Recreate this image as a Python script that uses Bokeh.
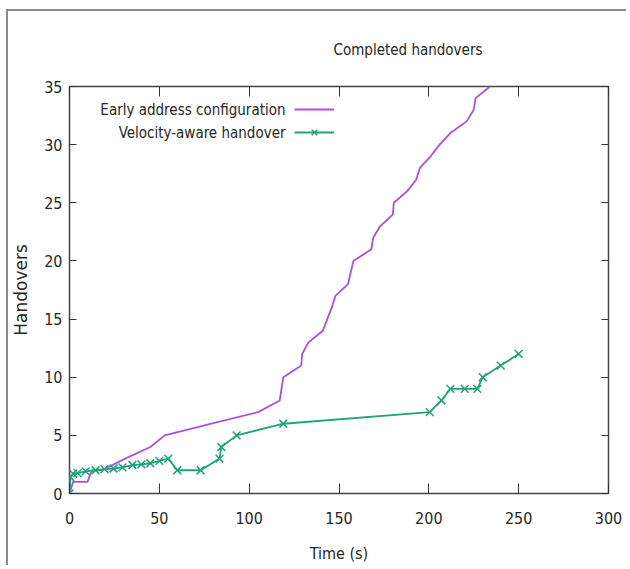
from bokeh.plotting import figure
from bokeh.models import Range1d, LinearAxis, Legend, LegendItem, Label, FixedTicker
from bokeh.embed import file_html
from bokeh.resources import INLINE

# ---- data ----
title_text = "Completed handovers"
x_label = "Time (s)"
y_label = "Handovers"
series_names = ["Early address configuration", "Velocity-aware handover"]

x_ticks = [0, 50, 100, 150, 200, 250, 300]
y_ticks = [0, 5, 10, 15, 20, 25, 30, 35]

t_early = [0, 2, 10, 12.5, 18, 31, 45, 53, 79, 105, 117, 119, 129, 129.5, 133, 141,
           143.5, 146, 148, 155, 156.5, 158, 168, 169, 173, 180, 180.5, 188, 193, 195,
           201, 206, 212, 221, 225, 226, 234]
v_early = [0, 1, 1, 2, 2, 3, 4, 5, 6, 7, 8, 10, 11, 12, 13, 14,
           15, 16, 17, 18, 19, 20, 21, 22, 23, 24, 25, 26, 27, 28,
           29, 30, 31, 32, 33, 34, 35]

t_vel = [0, 0.5, 2, 4.5, 9, 14.5, 19.5, 24.5, 29.5, 35, 40, 45, 50, 55, 60, 73,
         83.5, 84.5, 93, 119, 200.5, 207, 212, 220, 227, 230, 240, 250]
v_vel = [0, 1.4, 1.7, 1.75, 1.9, 2.0, 2.1, 2.15, 2.25, 2.45, 2.5, 2.6, 2.8, 3.0, 2.0, 2.0,
         3.0, 4.0, 5.0, 6.0, 7.0, 8.0, 9.0, 9.0, 9.0, 10.0, 11.0, 12.0]

PURPLE = "#ac4fe2"
GREEN = "#1fa37a"
TXT = "#262626"
NARROW = "DejaVu Sans Condensed, DejaVu Sans"

p = figure(width=620, height=556, output_backend="svg", toolbar_location=None,
           x_range=Range1d(0, 300), y_range=Range1d(0, 35),
           min_border_left=60, min_border_right=20, min_border_top=75, min_border_bottom=74,
           title=title_text)

# outer page frame: only its left and top edges are visible in the reference
p.styles = {"margin-left": "6px", "margin-top": "9px",
            "border-left": "2px solid #8a8a8a", "border-top": "2px solid #8a8a8a"}

p.title.align = "left"
p.title.offset = 264
p.title.standoff = 55
p.title.text_font = NARROW
p.title.text_font_size = "15px"
p.title.text_font_style = "normal"
p.title.text_color = TXT

p.xgrid.visible = False
p.ygrid.visible = False
p.outline_line_color = "#444444"
p.outline_line_width = 1.5
p.background_fill_color = "white"
p.border_fill_color = "white"

xt = FixedTicker(ticks=x_ticks)
yt = FixedTicker(ticks=y_ticks)

def style_axis(ax, tick_len, show_labels):
    ax.axis_line_color = None
    ax.major_tick_in = tick_len
    ax.major_tick_out = 0
    ax.minor_tick_in = 0
    ax.minor_tick_out = 0
    ax.major_tick_line_color = "#333333"
    ax.major_tick_line_width = 1
    if show_labels:
        ax.major_label_text_font = NARROW
        ax.major_label_text_font_size = "16px"
        ax.major_label_text_color = TXT
    else:
        ax.major_label_text_font_size = "1px"
        ax.major_label_text_color = None
        ax.major_label_standoff = 0

bx = p.xaxis[0]
bx.ticker = xt
style_axis(bx, 10, True)
bx.major_label_standoff = 18
bx.axis_label = x_label
bx.axis_label_text_font = NARROW
bx.axis_label_text_font_size = "16px"
bx.axis_label_text_font_style = "normal"
bx.axis_label_text_color = TXT
bx.axis_label_standoff = 17

ly = p.yaxis[0]
ly.ticker = yt
style_axis(ly, 7, True)
ly.major_label_standoff = 7
ly.axis_label = y_label
ly.axis_label_text_font = "DejaVu Sans"
ly.axis_label_text_font_size = "17px"
ly.axis_label_text_font_style = "normal"
ly.axis_label_text_color = TXT
ly.axis_label_standoff = 10

tx = LinearAxis(ticker=xt)
style_axis(tx, 10, False)
p.add_layout(tx, "above")
ry = LinearAxis(ticker=yt)
style_axis(ry, 7, False)
p.add_layout(ry, "right")

r1 = p.line(t_early, v_early, line_color=PURPLE, line_width=1.8)
r2 = p.line(t_vel, v_vel, line_color=GREEN, line_width=1.8)
r3 = p.scatter(t_vel, v_vel, marker="x", size=11, line_color=GREEN, line_width=1.5)

legend = Legend(items=[LegendItem(label=" ", renderers=[r1]),
                       LegendItem(label=" ", renderers=[r2, r3])],
                location=(225, 351), padding=0, spacing=3, margin=0,
                glyph_width=40, glyph_height=20, label_standoff=0,
                label_text_font_size="8px",
                border_line_color=None, background_fill_alpha=0)
p.add_layout(legend, "center")

for name, yy in zip(series_names, [384, 361]):
    p.add_layout(Label(x=216, y=yy, x_units="screen", y_units="screen", text=name,
                       text_align="right", text_baseline="middle",
                       text_font=NARROW, text_font_size="15px", text_color=TXT))

open("out.html", "w").write(file_html(p, INLINE))
